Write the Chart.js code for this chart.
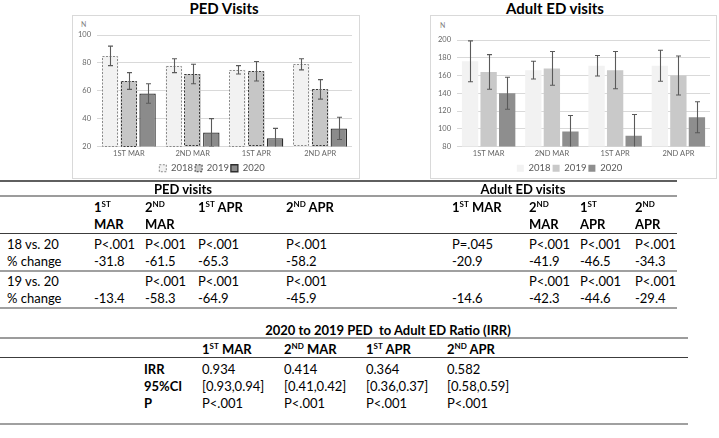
<!DOCTYPE html>
<html><head><meta charset="utf-8">
<script src="https://cdn.jsdelivr.net/npm/chart.js@4.4.1/dist/chart.umd.min.js"></script>
<style>
html,body{margin:0;padding:0;background:#fff;width:719px;height:438px;overflow:hidden;font-family:Lato,'Open Sans',sans-serif;}
.panel{position:absolute;border:1px solid #d9d9d9;box-sizing:border-box;background:#fff;}
.ctitle{position:absolute;font-weight:bold;font-size:15px;transform:translate(-50%,-50%);white-space:nowrap;color:#000;}
.nlab{position:absolute;font-size:7px;color:#7f7f7f;}
.cv{position:absolute;}
.hl{position:absolute;left:0;}
.t{position:absolute;font-size:13px;color:#000;line-height:17px;white-space:nowrap;}
.c{transform:translateY(-50%);}
.b{font-weight:bold;}
sup{font-size:8px;line-height:0;vertical-align:baseline;position:relative;top:-5px;}
</style></head>
<body>
<div class="panel" style="left:72px;top:15px;width:288px;height:164px;"></div>
<div class="panel" style="left:430px;top:15px;width:287px;height:164px;"></div>
<div class="ctitle" style="left:224px;top:8px;">PED Visits</div>
<div class="ctitle" style="left:555px;top:8px;">Adult ED visits</div>
<div class="nlab" style="left:81px;top:20px;">N</div>
<div class="nlab" style="left:440px;top:21px;">N</div>
<canvas id="ped" class="cv" width="281" height="168" style="left:72px;top:15px;"></canvas>
<canvas id="adult" class="cv" width="287" height="168" style="left:429px;top:15px;"></canvas>
<div id="tables"></div>
<script>
// ---------- chart data ----------
const categories = ['1ST MAR', '2ND MAR', '1ST APR', '2ND APR'];
const years = ['2018', '2019', '2020'];
const pedTicks = [20, 40, 60, 80, 100];
const adultTicks = [80, 100, 120, 140, 160, 180, 200];

const ped2018 = [85, 78, 75, 79];
const ped2019 = [67, 72, 74, 61];
const ped2020 = [58, 30, 26, 33];
const ped2018Err = [7, 5, 3, 4];
const ped2019Err = [6, 7, 7, 7];
const ped2020Err = [7, 10, 7, 8];

const adult2018 = [176, 166, 171, 171];
const adult2019 = [164, 168, 166, 160];
const adult2020 = [140, 97, 92, 113];
const adult2018Err = [23, 10, 11.5, 17.5];
const adult2019Err = [19.5, 19, 21, 22];
const adult2020Err = [18, 18, 24, 17.5];

// ---------- table data ----------
const tableCols = ['1ST MAR', '2ND MAR', '1ST APR', '2ND APR'];
const pedP18 = ['P<.001', 'P<.001', 'P<.001', 'P<.001'];
const pedChg18 = ['-31.8', '-61.5', '-65.3', '-58.2'];
const pedP19 = ['', 'P<.001', 'P<.001', 'P<.001'];
const pedChg19 = ['-13.4', '-58.3', '-64.9', '-45.9'];
const adultP18 = ['P=.045', 'P<.001', 'P<.001', 'P<.001'];
const adultChg18 = ['-20.9', '-41.9', '-46.5', '-34.3'];
const adultP19 = ['', 'P<.001', 'P<.001', 'P<.001'];
const adultChg19 = ['-14.6', '-42.3', '-44.6', '-29.4'];
const rowLabels = ['18 vs. 20', '% change', '19 vs. 20', '% change'];
const irrLabels = ['IRR', '95%CI', 'P'];
const irrVal = ['0.934', '0.414', '0.364', '0.582'];
const irrCI = ['[0.93,0.94]', '[0.41,0.42]', '[0.36,0.37]', '[0.58,0.59]'];
const irrP = ['P<.001', 'P<.001', 'P<.001', 'P<.001'];

Chart.defaults.font.family = "Lato, 'Open Sans', sans-serif";
Chart.defaults.color = '#595959';

const barExtras = {
  id: 'barExtras',
  afterDatasetsDraw(chart) {
    const ctx = chart.ctx, ys = chart.scales.y, a = chart.chartArea;
    ctx.save();
    chart.data.datasets.forEach((ds, di) => {
      if (!ds.dashBorder) return;
      const meta = chart.getDatasetMeta(di);
      ctx.strokeStyle = ds.dashBorder.color;
      ctx.lineWidth = 1;
      ctx.setLineDash(ds.dashBorder.dash);
      meta.data.forEach(el => {
        const w = el.width;
        const top = Math.max(el.y, a.top), bot = Math.min(el.base, a.bottom);
        ctx.strokeRect(Math.round(el.x - w / 2) + 0.5, Math.round(top) + 0.5, Math.round(w) - 1, Math.round(bot - top) - 1);
      });
    });
    ctx.setLineDash([]);
    ctx.beginPath();
    ctx.rect(a.left, a.top - 12, a.right - a.left, a.bottom - a.top + 12);
    ctx.clip();
    chart.data.datasets.forEach((ds, di) => {
      if (!ds.errors) return;
      const meta = chart.getDatasetMeta(di);
      ctx.strokeStyle = '#5a5a5a';
      ctx.lineWidth = 1.1;
      meta.data.forEach((el, i) => {
        const v = ds.data[i], e = ds.errors[i];
        const yt = ys.getPixelForValue(v + e), yb = ys.getPixelForValue(v - e);
        const x = Math.round(el.x) + 0.5;
        ctx.beginPath();
        ctx.moveTo(x, yt); ctx.lineTo(x, yb);
        ctx.moveTo(x - 2.5, yt); ctx.lineTo(x + 2.5, yt);
        ctx.moveTo(x - 2.5, yb); ctx.lineTo(x + 2.5, yb);
        ctx.stroke();
      });
    });
    ctx.restore();
  }
};

function makeChart(id, sets, ticks, yw, pad) {
  return new Chart(document.getElementById(id), {
    type: 'bar',
    data: { labels: categories, datasets: sets },
    options: {
      responsive: false, animation: false,
      layout: { padding: pad },
      datasets: { bar: { categoryPercentage: 0.88, barPercentage: 0.88 } },
      plugins: {
        tooltip: { enabled: false },
        legend: {
          position: 'bottom',
          labels: {
            boxWidth: 7, boxHeight: 7, padding: 2, color: '#595959',
            font: { size: 9.5 },
            generateLabels(chart) {
              const items = Chart.defaults.plugins.legend.labels.generateLabels(chart);
              items.forEach((it, i) => {
                const ds = chart.data.datasets[i];
                if (ds.dashBorder) { it.strokeStyle = ds.dashBorder.color; it.lineWidth = 1; it.lineDash = ds.dashBorder.dash; }
              });
              return items;
            }
          }
        }
      },
      scales: {
        x: {
          grid: { display: false, drawTicks: false },
          border: { display: false },
          ticks: { font: { size: 7.5 }, color: '#666', padding: 3, maxRotation: 0, autoSkip: false }
        },
        y: {
          min: ticks[0], max: ticks[ticks.length - 1],
          afterBuildTicks(s) { s.ticks = ticks.map(v => ({ value: v })); },
          afterFit(s) { s.width = yw; },
          grid: { color: '#d9d9d9', drawTicks: false },
          border: { display: false },
          ticks: { font: { size: 7.5 }, color: '#666', padding: 6 }
        }
      }
    },
    plugins: [barExtras]
  });
}

makeChart('ped', [
  { label: years[0], data: ped2018, errors: ped2018Err, backgroundColor: '#f2f2f2', borderWidth: 0, dashBorder: { color: '#8a8a8a', dash: [2, 1.5] } },
  { label: years[1], data: ped2019, errors: ped2019Err, backgroundColor: '#c6c6c6', borderWidth: 0, dashBorder: { color: '#3a3a3a', dash: [2, 1.5] } },
  { label: years[2], data: ped2020, errors: ped2020Err, backgroundColor: '#8b8b8b', borderColor: '#2e2e2e', borderWidth: 1.3 }
], pedTicks, 25, { top: 20, right: 1, left: 0, bottom: 0 });

makeChart('adult', [
  { label: years[0], data: adult2018, errors: adult2018Err, backgroundColor: '#f2f2f2', borderWidth: 0 },
  { label: years[1], data: adult2019, errors: adult2019Err, backgroundColor: '#c9c9c9', borderWidth: 0 },
  { label: years[2], data: adult2020, errors: adult2020Err, backgroundColor: '#8e8e8e', borderWidth: 0 }
], adultTicks, 28, { top: 25, right: 6, left: 0, bottom: 0 });

// ---------- tables ----------
const root = document.getElementById('tables');
function txt(x, y, html, cls) {
  const d = document.createElement('div');
  d.className = 't c ' + (cls || '');
  d.style.left = x + 'px'; d.style.top = y + 'px';
  d.innerHTML = html;
  root.appendChild(d);
  return d;
}
function ctxt(x, y, html, cls) {
  const d = txt(x, y, html, cls);
  d.style.transform = 'translate(-50%,-50%)';
}
function hline(y, w, h, col) {
  const d = document.createElement('div');
  d.className = 'hl';
  d.style.top = (y - h / 2) + 'px'; d.style.width = w + 'px'; d.style.height = h + 'px'; d.style.background = col;
  root.appendChild(d);
}
function ord(s, wrap) {
  const m = s.match(/^(\d)(ST|ND|RD|TH)\s(.*)$/);
  return m[1] + '<sup>' + m[2] + '</sup>' + (wrap ? '<br>' : ' ') + m[3];
}
function esc(s) { return s.replace(/</g, '&lt;'); }

// Table 1
const t1x = [94, 145, 198, 286, 452, 529, 580, 635];
const t1wrap = [true, true, false, false, false, true, true, true];
hline(181, 677, 1.5, '#5f5f5f');
ctxt(183, 189, 'PED visits', 'b');
ctxt(523, 189, 'Adult ED visits', 'b');
hline(196, 677, 2, '#9c9c9c');
const t1cols = tableCols.concat(tableCols);
t1cols.forEach((c, i) => {
  const d = document.createElement('div');
  d.className = 't b';
  d.style.left = t1x[i] + 'px'; d.style.top = '199px';
  d.innerHTML = ord(c, t1wrap[i]);
  root.appendChild(d);
});
hline(233, 677, 1, '#3c3c3c');
const t1rowsY = [244, 261, 281, 298];
const t1rows = [pedP18.concat(adultP18), pedChg18.concat(adultChg18), pedP19.concat(adultP19), pedChg19.concat(adultChg19)];
t1rows.forEach((r, ri) => {
  txt(7, t1rowsY[ri], rowLabels[ri]);
  r.forEach((v, ci) => { if (v) txt(t1x[ci], t1rowsY[ri], esc(v)); });
});
hline(271, 677, 1.5, '#a0a0a0');
hline(308, 677, 2, '#a0a0a0');

// Table 2
const t2x = [202, 284, 366, 447];
ctxt(388, 330, '2020 to 2019 PED&nbsp; to Adult ED Ratio (IRR)', 'b');
hline(338, 688, 2, '#9c9c9c');
tableCols.forEach((c, i) => txt(t2x[i], 349, ord(c, false), 'b'));
hline(357, 688, 1, '#3c3c3c');
const t2rowsY = [369, 386, 403];
[irrVal, irrCI, irrP].forEach((r, ri) => {
  txt(144, t2rowsY[ri], irrLabels[ri], 'b');
  r.forEach((v, ci) => txt(t2x[ci], t2rowsY[ri], esc(v)));
});
hline(424, 688, 2, '#a0a0a0');
</script>
</body></html>
